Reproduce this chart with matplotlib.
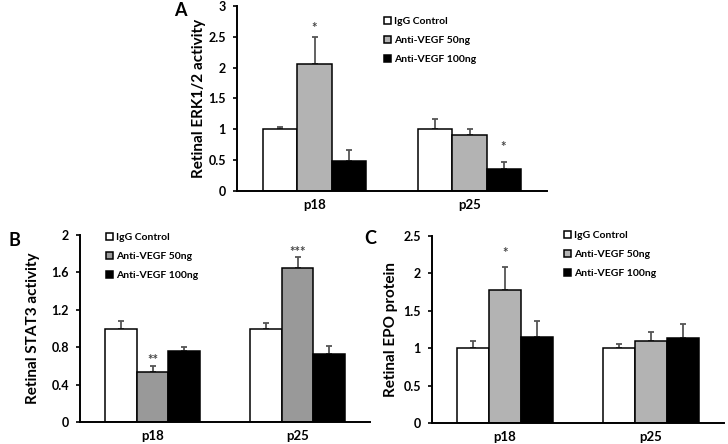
import numpy as np
import matplotlib
matplotlib.use('Agg')
import matplotlib.pyplot as plt

plt.rcParams['font.family'] = ['Lato', 'DejaVu Sans']
plt.rcParams['font.weight'] = 'bold'

groups = ['p18', 'p25']
series = ['IgG Control', 'Anti-VEGF 50ng', 'Anti-VEGF 100ng']

# A - ERK1/2
erk_igg = [1.00, 1.00]
erk_50 = [2.06, 0.90]
erk_100 = [0.48, 0.36]
erk_igg_err = [0.04, 0.16]
erk_50_err = [0.44, 0.10]
erk_100_err = [0.18, 0.11]

# B - STAT3
stat_igg = [1.00, 1.00]
stat_50 = [0.536, 1.643]
stat_100 = [0.757, 0.732]
stat_igg_err = [0.075, 0.064]
stat_50_err = [0.064, 0.117]
stat_100_err = [0.04, 0.086]

# C - EPO
epo_igg = [1.00, 1.00]
epo_50 = [1.78, 1.10]
epo_100 = [1.155, 1.13]
epo_igg_err = [0.09, 0.06]
epo_50_err = [0.31, 0.12]
epo_100_err = [0.215, 0.20]

# significance marks: (series index, group index, text, y)
erk_stars = [(1, 0, '*', 2.64), (2, 1, '*', 0.72)]
stat_stars = [(1, 0, '**', 0.66), (1, 1, '***', 1.82)]
epo_stars = [(1, 0, '*', 2.27)]

W, H = 728, 444
fig = plt.figure(figsize=(W / 100, H / 100), dpi=100)


def box(l, t, r, b):
    return [l / W, 1 - b / H, (r - l) / W, (b - t) / H]


def panel(rect, means, errs, gray, ylim, yticks, yticklabels, ylabel, stars,
          leg_xy, lpad):
    ax = fig.add_axes(rect)
    x = np.arange(len(groups))
    width = 0.22
    colors = ['white', gray, 'black']
    bars = []
    for i, (m, e) in enumerate(zip(means, errs)):
        pos = x + (i - 1) * width
        b = ax.bar(pos, m, width, color=colors[i], edgecolor='black',
                   linewidth=1.1, zorder=2, label=series[i])
        ax.errorbar(pos, m, yerr=[np.zeros(len(m)), e], fmt='none',
                    ecolor='#555555', elinewidth=1.3, capsize=2.5,
                    capthick=1.3, zorder=1)
        bars.append(b)
    for si, gi, txt, y in stars:
        ax.text(x[gi] + (si - 1) * width, y, txt, ha='center', va='center',
                fontsize=9.5, color='#444444')
    ax.set_xlim(-0.5, 1.5)
    ax.set_ylim(*ylim)
    ax.set_yticks(yticks)
    ax.set_yticklabels(yticklabels, fontsize=9, fontweight='bold')
    ax.set_xticks(x)
    ax.set_xticklabels(groups, fontsize=9.5, fontweight='bold')
    ax.tick_params(axis='x', length=0, pad=6)
    ax.tick_params(axis='y', length=3, width=1.2, pad=5)
    ax.spines['top'].set_visible(False)
    ax.spines['right'].set_visible(False)
    ax.spines['left'].set_linewidth(1.4)
    ax.spines['bottom'].set_linewidth(1.4)
    ax.set_ylabel(ylabel, fontsize=11, fontweight='bold', labelpad=lpad)
    fig.legend(handles=bars, labels=series, loc='upper left',
               bbox_to_anchor=(leg_xy[0] / W, 1 - leg_xy[1] / H),
               frameon=False, fontsize=7.5, handlelength=0.65,
               handleheight=0.65, handletextpad=0.3, labelspacing=0.95,
               borderpad=0, borderaxespad=0)
    return ax


panel(box(237, 6, 547, 191), [erk_igg, erk_50, erk_100],
      [erk_igg_err, erk_50_err, erk_100_err], '#b3b3b3', (0, 3),
      [0, 0.5, 1, 1.5, 2, 2.5, 3], ['0', '0.5', '1', '1.5', '2', '2.5', '3'],
      'Retinal ERK1/2 activity', erk_stars, (384, 17), 2)

panel(box(80, 235, 370, 422), [stat_igg, stat_50, stat_100],
      [stat_igg_err, stat_50_err, stat_100_err], '#999999', (0, 2),
      [0, 0.4, 0.8, 1.2, 1.6, 2], ['0', '0.4', '0.8', '1.2', '1.6', '2'],
      'Retinal STAT3 activity', stat_stars, (106, 233), 8)

panel(box(432, 236, 724, 423), [epo_igg, epo_50, epo_100],
      [epo_igg_err, epo_50_err, epo_100_err], '#b3b3b3', (0, 2.5),
      [0, 0.5, 1, 1.5, 2, 2.5], ['0', '0.5', '1', '1.5', '2', '2.5'],
      'Retinal EPO protein', epo_stars, (564, 231), 4)

fig.text(180 / W, 1 - 10 / H, 'A', fontsize=13, fontweight='bold',
         ha='center', va='center')
fig.text(14 / W, 1 - 240 / H, 'B', fontsize=13, fontweight='bold',
         ha='center', va='center')
fig.text(370 / W, 1 - 238 / H, 'C', fontsize=13, fontweight='bold',
         ha='center', va='center')

fig.savefig('out.png', dpi=100)
